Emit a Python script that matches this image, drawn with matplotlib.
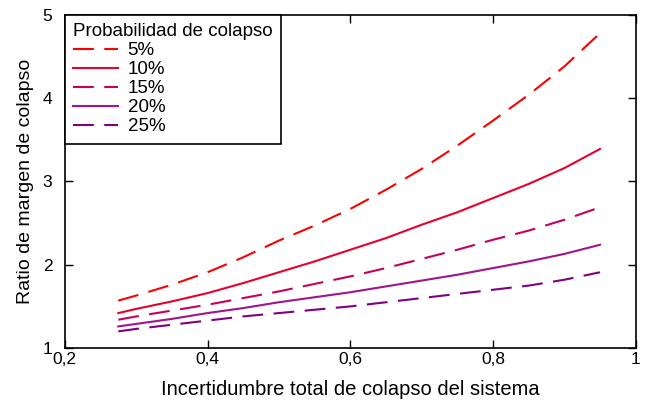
import numpy as np
import matplotlib.pyplot as plt

plt.rcParams['font.family'] = ['Liberation Sans', 'DejaVu Sans']

x = [0.275, 0.3, 0.35, 0.4, 0.45, 0.5, 0.55, 0.6, 0.65, 0.7, 0.75, 0.8, 0.85, 0.9, 0.95]
y05 = [1.57, 1.63, 1.76, 1.91, 2.09, 2.29, 2.47, 2.67, 2.90, 3.15, 3.43, 3.73, 4.04, 4.38, 4.78]
y10 = [1.42, 1.47, 1.56, 1.66, 1.78, 1.91, 2.04, 2.18, 2.32, 2.48, 2.63, 2.80, 2.97, 3.16, 3.39]
y15 = [1.34, 1.38, 1.45, 1.52, 1.60, 1.68, 1.77, 1.86, 1.96, 2.07, 2.18, 2.30, 2.41, 2.54, 2.69]
y20 = [1.26, 1.29, 1.35, 1.42, 1.48, 1.55, 1.61, 1.67, 1.74, 1.81, 1.88, 1.96, 2.04, 2.13, 2.24]
y25 = [1.20, 1.23, 1.28, 1.33, 1.38, 1.42, 1.46, 1.50, 1.55, 1.60, 1.65, 1.70, 1.75, 1.82, 1.91]

series = [("5%", y05, "#ff0000", (0, (10, 5))),
          ("10%", y10, "#e8002e", "-"),
          ("15%", y15, "#c8005a", (0, (10, 5))),
          ("20%", y20, "#a0148c", "-"),
          ("25%", y25, "#80007f", (0, (10, 5)))]

fig, ax = plt.subplots(figsize=(6.48, 4.01), dpi=100)
fig.subplots_adjust(left=0.1, right=0.981, top=0.963, bottom=0.132)

for lab, y, c, ls in series:
    ax.plot(x, y, color=c, linestyle=ls, linewidth=1.5, label=lab)

ax.set_xlim(0.2, 1)
ax.set_ylim(1, 5)
ax.set_xticks([0.2, 0.4, 0.6, 0.8, 1])
ax.set_xticklabels(["0,2", "0,4", "0,6", "0,8", "1"])
ax.set_yticks([1, 2, 3, 4, 5])
ax.set_yticklabels(["1", "2", "3", "4", "5"])
ax.tick_params(direction='in', top=True, right=True, labelsize=12.5, length=6, width=1)
ax.tick_params(axis='x', pad=3)
ax.tick_params(axis='y', pad=9)
for s in ax.spines.values():
    s.set_linewidth(1.2)

ax.set_xlabel("Incertidumbre total de colapso del sistema", fontsize=14.5, labelpad=9)
ax.set_ylabel("Ratio de margen de colapso", fontsize=14, labelpad=6)

leg = ax.legend(title="Probabilidad de colapso", loc='upper left', fontsize=13.5,
                title_fontsize=13.5, fancybox=False, edgecolor='black',
                borderaxespad=0, handlelength=2.4, labelspacing=0.1,
                handletextpad=0.5, borderpad=0.45, framealpha=1)
leg.get_frame().set_linewidth(1.2)
leg._legend_box.align = "left"

plt.savefig("out.png")
